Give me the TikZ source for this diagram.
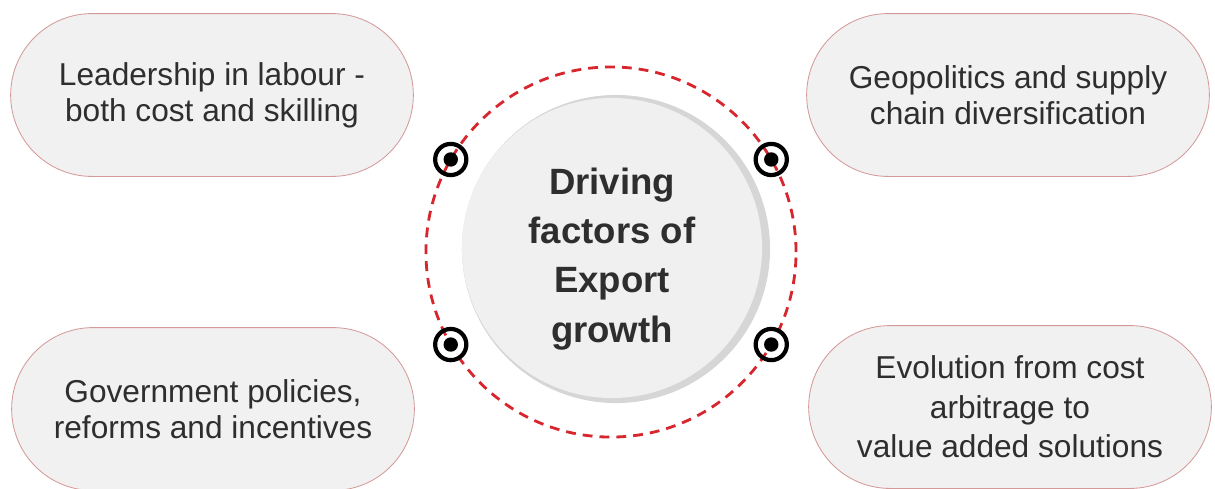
\documentclass[tikz,border=0pt]{standalone}
\usepackage{fontspec}
\setmainfont{Liberation Sans}
\usepackage{xcolor}
\usepackage{tikz}
\usetikzlibrary{shapes.misc,positioning}
\definecolor{pillfill}{HTML}{F2F1F2}
\definecolor{pilledge}{HTML}{D49A9A}
\definecolor{ringred}{HTML}{D7262E}
\definecolor{hubfill}{HTML}{F0F0F0}
\definecolor{hubrim}{HTML}{D6D6D6}
\definecolor{txtgray}{HTML}{2E2E2E}
\tikzstyle{factor} = [rounded rectangle, minimum width=10.3cm, minimum height=4.07cm, draw=pilledge, line width=0.6pt, fill=pillfill, text=txtgray, align=center, font=\fontsize{22.5}{25.5}\selectfont]
\tikzstyle{ring} = [circle, minimum size=9.25cm, draw=ringred, line width=2pt, dash pattern=on 7pt off 5pt, outer sep=0pt]
\tikzstyle{target} = [circle, minimum size=0.78cm, inner sep=0pt, draw=black, line width=3pt, path picture={\fill[black] (path picture bounding box.center) circle (0.18cm);}]

\begin{document}
\begin{tikzpicture}[x=0.025cm, y=-0.025cm]
      \useasboundingbox (0,0) rectangle (1215,488);
      % four factors
      \node (labour) [factor] at (212,95) {Leadership in labour -\\both cost and skilling};
      \node (geo) [factor] at (1008,95) {Geopolitics and supply\\chain diversification};
      \node (policy) [factor] at (213,409) {Government policies,\\reforms and incentives};
      \node (value) [factor, font=\fontsize{22.5}{28}\selectfont] at (1010,407) {Evolution from cost\\arbitrage to\\value added solutions};

      % centre
      \node (ring) [ring] at (611,252) {};
      \node (shade) [circle, minimum size=7.7cm, fill=hubrim] at (616,249) {};
      \node (hub) [circle, minimum size=7.5cm, fill=hubfill] at (612,248) {};
      \node (title) [text=txtgray, align=center, font=\fontsize{26}{35}\selectfont\bfseries] at (612,259) {Driving\\factors of\\Export\\growth};

      \node (t1) [target] at (ring.150) {};
      \node (t2) [target] at (ring.30) {};
      \node (t3) [target] at (ring.210) {};
      \node (t4) [target] at (ring.330) {};

    \end{tikzpicture}
\end{document}
